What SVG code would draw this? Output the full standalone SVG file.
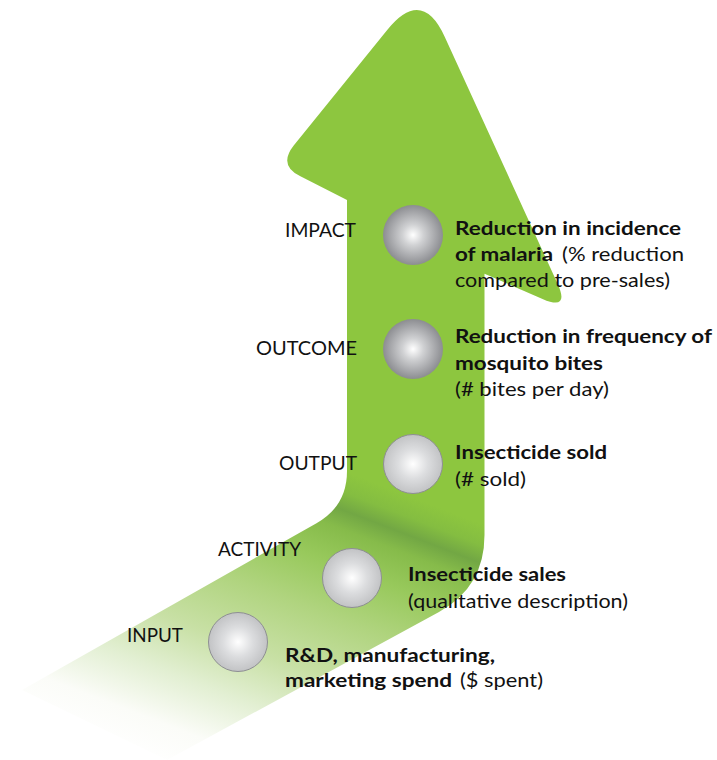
<svg xmlns="http://www.w3.org/2000/svg" width="717" height="760" viewBox="0 0 717 760">
  <style>
    text { font-family: Lato, "Open Sans", "Liberation Sans", sans-serif; font-size: 19px; fill: #111111; }
    .label { text-anchor: end; }
    .b { font-weight: bold; }
    .dark { fill: url(#ballDark); }
    .light { fill: url(#ballLight); stroke: #8e8f93; stroke-width: 1; }
  </style>
  <defs>
    <linearGradient id="arrowGrad" gradientUnits="userSpaceOnUse" x1="95" y1="740" x2="224.6" y2="403.4">
      <stop offset="0" stop-color="#ffffff"/>
      <stop offset="0.111" stop-color="#fbfcf8"/>
      <stop offset="0.25" stop-color="#e2efd2"/>
      <stop offset="0.389" stop-color="#c8e0a5"/>
      <stop offset="0.556" stop-color="#b0d47f"/>
      <stop offset="0.694" stop-color="#98c95c"/>
      <stop offset="0.792" stop-color="#86bb4a"/>
      <stop offset="0.842" stop-color="#72a744"/>
      <stop offset="0.889" stop-color="#84bd41"/>
      <stop offset="0.944" stop-color="#8dc63f"/>
      <stop offset="1" stop-color="#8dc63f"/>
    </linearGradient>
    <radialGradient id="ballDark" cx="0.5" cy="0.5" r="0.5">
      <stop offset="0" stop-color="#ffffff"/>
      <stop offset="0.35" stop-color="#d0d1d3"/>
      <stop offset="1" stop-color="#8c8d91"/>
    </radialGradient>
    <radialGradient id="ballLight" cx="0.5" cy="0.5" r="0.5">
      <stop offset="0" stop-color="#ffffff"/>
      <stop offset="0.5" stop-color="#dcdddf"/>
      <stop offset="1" stop-color="#c2c3c5"/>
    </radialGradient>
  </defs>

  <g id="connectors">
    <path id="arrow" fill="url(#arrowGrad)" d="M 387.4,29.8 Q 422,-13 444.8,37 L 557.6,283.7 Q 570,311 542.5,298.9 L 484.5,273.7 L 484.5,535 Q 484.5,587 439,612 L 167,760 L 22,690 L 316.5,523.2 Q 347,506 347,471 L 347,200 L 300.4,176.2 Q 278,165.5 293.7,145.5 Z"/>
  </g>

  <g id="impact">
    <circle class="dark" cx="413" cy="235" r="30"/>
    <text class="label" x="356" y="237" textLength="71" lengthAdjust="spacingAndGlyphs">IMPACT</text>
    <text x="455" y="235" class="b" textLength="226" lengthAdjust="spacingAndGlyphs">Reduction in incidence</text>
    <text y="261"><tspan x="455" class="b" textLength="98" lengthAdjust="spacingAndGlyphs">of malaria</tspan><tspan x="562" textLength="122" lengthAdjust="spacingAndGlyphs">(% reduction</tspan></text>
    <text x="455" y="287" textLength="215" lengthAdjust="spacingAndGlyphs">compared to pre-sales)</text>
  </g>

  <g id="outcome">
    <circle class="dark" cx="413" cy="349" r="30"/>
    <text class="label" x="357" y="355" textLength="101" lengthAdjust="spacingAndGlyphs">OUTCOME</text>
    <text x="455" y="343" class="b" textLength="257" lengthAdjust="spacingAndGlyphs">Reduction in frequency of</text>
    <text x="455" y="370" class="b" textLength="148" lengthAdjust="spacingAndGlyphs">mosquito bites</text>
    <text x="455" y="396" textLength="154" lengthAdjust="spacingAndGlyphs">(# bites per day)</text>
  </g>

  <g id="output">
    <circle class="light" cx="413" cy="464" r="29.5"/>
    <text class="label" x="357" y="470" textLength="78" lengthAdjust="spacingAndGlyphs">OUTPUT</text>
    <text x="455" y="459" class="b" textLength="152" lengthAdjust="spacingAndGlyphs">Insecticide sold</text>
    <text x="455" y="486" textLength="71" lengthAdjust="spacingAndGlyphs">(# sold)</text>
  </g>

  <g id="activity">
    <circle class="light" cx="352" cy="578" r="29.5"/>
    <text class="label" x="301" y="556" textLength="83" lengthAdjust="spacingAndGlyphs">ACTIVITY</text>
    <text x="408" y="581" class="b" textLength="158" lengthAdjust="spacingAndGlyphs">Insecticide sales</text>
    <text x="408" y="608" textLength="220" lengthAdjust="spacingAndGlyphs">(qualitative description)</text>
  </g>

  <g id="input">
    <circle class="light" cx="238" cy="642" r="29.5"/>
    <text class="label" x="183" y="642" textLength="56" lengthAdjust="spacingAndGlyphs">INPUT</text>
    <text x="285" y="662" class="b" textLength="210" lengthAdjust="spacingAndGlyphs">R&amp;D, manufacturing,</text>
    <text y="687"><tspan x="285" class="b" textLength="167" lengthAdjust="spacingAndGlyphs">marketing spend</tspan><tspan x="460" textLength="83" lengthAdjust="spacingAndGlyphs">($ spent)</tspan></text>
  </g>
</svg>
